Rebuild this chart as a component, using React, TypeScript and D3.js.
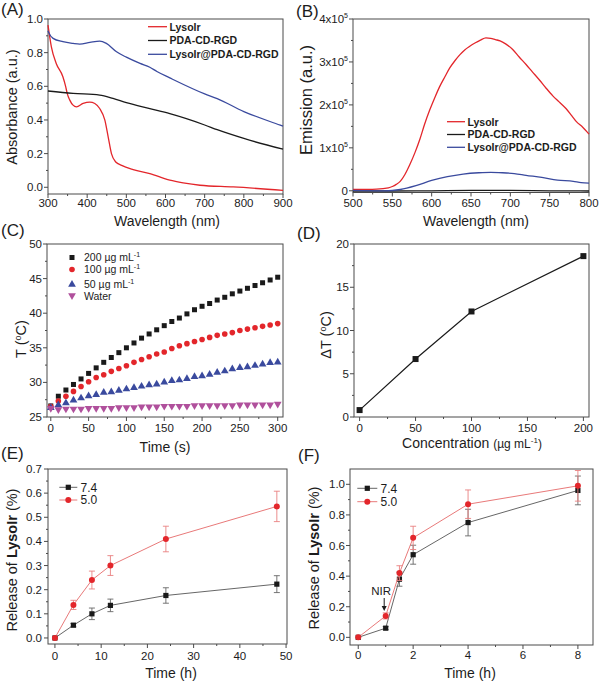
import React from "react";
import * as d3 from "d3";

type Pt = [number, number];

const FONT = "'Liberation Sans', Arial, Helvetica, sans-serif";
const INK = "#1c1c1c";
const FRAME = "#4a4a4a";
const RED = "#e3262b";
const BLACK = "#1a1a1a";
const BLUE = "#3a4a9e";
const MAGENTA = "#b0509c";

// ---------- Panel A: absorbance (wavelength nm, a.u.) ----------
const absLysoIr: Pt[] = [
  [300, 0.964], [308.6, 0.835], [321, 0.736], [338, 0.657], [345, 0.6], [349, 0.558],
  [355.6, 0.518], [364, 0.488], [372.6, 0.478], [389.7, 0.498], [406.7, 0.506],
  [419.5, 0.498], [432, 0.468], [445, 0.4], [453.6, 0.3], [462, 0.2], [473, 0.15],
  [488, 0.13], [517.5, 0.105], [560, 0.081], [611, 0.042], [645, 0.026], [688, 0.012],
  [773, 0.002], [900, -0.018],
];
const absPDA: Pt[] = [
  [300, 0.572], [364, 0.558], [432, 0.548], [466, 0.528], [500, 0.503], [560, 0.467],
  [611, 0.437], [700, 0.37], [732, 0.342], [800, 0.29], [900, 0.226],
];
const absLysoIrPDA: Pt[] = [
  [300, 0.93], [302, 0.918], [313, 0.885], [338, 0.865], [364, 0.855], [381, 0.851],
  [407, 0.861], [432, 0.869], [449, 0.855], [475, 0.805], [500, 0.773], [535, 0.736],
  [560, 0.713], [578, 0.688], [611, 0.65], [700, 0.555], [732, 0.527], [800, 0.45],
  [893, 0.369], [900, 0.363],
];
const absLegend = ["LysoIr", "PDA-CD-RGD", "LysoIr@PDA-CD-RGD"];

// ---------- Panel B: emission (wavelength nm, counts) ----------
const emLysoIr: Pt[] = [
  [500, 3000], [530, 4000], [545, 7000], [550, 10000], [555, 15000], [560, 22000],
  [566, 38000], [572, 60000], [579, 90000], [585, 120000], [591, 155000], [597.5, 188000],
  [604, 217000], [610, 242000], [617, 266000], [623, 286000], [630, 304000], [636, 317000],
  [642, 328000], [648, 336000], [655, 344000], [662, 351000], [669, 356000], [675, 355000],
  [681, 352000], [687, 349000], [694, 342000], [703, 329000], [711, 312000], [720, 294000],
  [728, 277000], [737, 258000], [745, 240000], [754, 221000], [762, 207000], [771, 191000],
  [778, 175000], [784, 161000], [792, 148000], [800, 132000],
];
const emPDA: Pt[] = [
  [500, -500], [550, -500], [600, 0], [650, 800], [700, 800], [750, 0], [800, -500],
];
const emLysoIrPDA: Pt[] = [
  [500, 1000], [540, 0], [560, 3000], [580, 12000], [600, 24000], [620, 33000],
  [640, 39000], [660, 42000], [675, 43000], [690, 42000], [705, 40000], [720, 36000],
  [740, 31000], [760, 25000], [780, 22000], [790, 19000], [800, 18000],
];

// ---------- Panel C: heating curves ----------
const timeC = [0, 10, 20, 30, 40, 50, 60, 70, 80, 90, 100, 110, 120, 130, 140, 150, 160, 170, 180, 190, 200, 210, 220, 230, 240, 250, 260, 270, 280, 290, 300];
const temp200 = [26.6, 28.0, 28.9, 29.7, 30.5, 31.3, 32.1, 32.9, 33.6, 34.3, 35.0, 35.7, 36.4, 37.0, 37.6, 38.2, 38.8, 39.3, 39.9, 40.5, 41.0, 41.4, 41.9, 42.3, 42.8, 43.2, 43.6, 44.0, 44.4, 44.8, 45.2];
const temp100 = [26.5, 27.3, 28.0, 28.7, 29.4, 30.1, 30.7, 31.1, 31.6, 32.0, 32.4, 32.9, 33.3, 33.7, 34.1, 34.4, 34.9, 35.3, 35.6, 35.9, 36.2, 36.5, 36.8, 37.0, 37.2, 37.5, 37.7, 37.9, 38.1, 38.3, 38.5];
const temp50 = [26.4, 26.8, 27.1, 27.5, 27.8, 28.1, 28.3, 28.6, 28.7, 28.9, 29.1, 29.3, 29.5, 29.7, 29.8, 30.1, 30.3, 30.4, 30.6, 30.9, 31.0, 31.2, 31.5, 31.7, 32.0, 32.2, 32.3, 32.5, 32.7, 32.9, 33.0];
const tempWater = [26.2, 26.0, 26.1, 26.1, 26.1, 26.2, 26.2, 26.2, 26.2, 26.3, 26.3, 26.3, 26.4, 26.4, 26.4, 26.5, 26.5, 26.5, 26.5, 26.6, 26.6, 26.6, 26.6, 26.6, 26.6, 26.7, 26.7, 26.7, 26.7, 26.7, 26.8];
const heatLegend = ["200", "100", "50", "Water"];

// ---------- Panel D: delta T vs concentration ----------
const concD = [0, 50, 100, 200];
const deltaT = [0.8, 6.7, 12.2, 18.6];

// ---------- Panel E: release over 48 h ----------
const timeE = [0, 4, 8, 12, 24, 48];
const rel74E = [0, 0.053, 0.1, 0.135, 0.176, 0.223];
const err74E = [0, 0.007, 0.024, 0.026, 0.032, 0.035];
const rel50E = [0, 0.137, 0.24, 0.3, 0.41, 0.545];
const err50E = [0, 0.019, 0.037, 0.041, 0.053, 0.063];

// ---------- Panel F: release with NIR ----------
const timeF = [0, 1, 1.5, 2, 4, 8];
const rel74F = [0, 0.06, 0.38, 0.54, 0.75, 0.96];
const err74F = [0, 0.01, 0.046, 0.062, 0.087, 0.094];
const rel50F = [0, 0.14, 0.42, 0.65, 0.87, 0.99];
const err50F = [0, 0.02, 0.048, 0.076, 0.093, 0.1];
const phLegend = ["7.4", "5.0"];

// ---------- ticks ----------
const ticksAx = [300, 400, 500, 600, 700, 800, 900];
const minorAx = [350, 450, 550, 650, 750, 850];
const ticksAy = [0, 0.2, 0.4, 0.6, 0.8, 1.0];
const minorAy = [0.1, 0.3, 0.5, 0.7, 0.9];
const ticksBx = [500, 550, 600, 650, 700, 750, 800];
const minorBx = [525, 575, 625, 675, 725, 775];
const ticksBy = [0, 100000, 200000, 300000, 400000];
const minorBy = [50000, 150000, 250000, 350000];
const ticksCx = [0, 50, 100, 150, 200, 250, 300];
const minorCx = [25, 75, 125, 175, 225, 275];
const ticksCy = [25, 30, 35, 40, 45, 50];
const minorCy = [27.5, 32.5, 37.5, 42.5, 47.5];
const ticksDx = [0, 50, 100, 150, 200];
const minorDx = [25, 75, 125, 175];
const ticksDy = [0, 5, 10, 15, 20];
const minorDy = [2.5, 7.5, 12.5, 17.5];
const ticksEx = [0, 10, 20, 30, 40, 50];
const minorEx = [5, 15, 25, 35, 45];
const ticksEy = [0, 0.1, 0.2, 0.3, 0.4, 0.5, 0.6, 0.7];
const minorEy = [0.05, 0.15, 0.25, 0.35, 0.45, 0.55, 0.65];
const ticksFx = [0, 2, 4, 6, 8];
const minorFx = [1, 3, 5, 7];
const ticksFy = [0, 0.2, 0.4, 0.6, 0.8, 1.0];
const minorFy = [0.1, 0.3, 0.5, 0.7, 0.9];

interface Box { l: number; r: number; t: number; b: number }

const boxA: Box = { l: 48, r: 283, t: 19, b: 194 };
const boxB: Box = { l: 353, r: 589, t: 19, b: 192.5 };
const boxC: Box = { l: 47, r: 283, t: 244, b: 417 };
const boxD: Box = { l: 354, r: 589, t: 244, b: 417 };
const boxE: Box = { l: 48, r: 287, t: 469, b: 644 };
const boxF: Box = { l: 350, r: 593, t: 469, b: 645 };

type Sc = d3.ScaleLinear<number, number>;

function Frame(props: {
  box: Box; x: Sc; y: Sc; xMajor: number[]; xMinor: number[]; yMajor: number[]; yMinor: number[];
  xFmt: (v: number) => React.ReactNode; yFmt: (v: number) => React.ReactNode;
  xLabelY: number; yGap: number;
}) {
  const { box, x, y, xMajor, xMinor, yMajor, yMinor, xFmt, yFmt, xLabelY, yGap } = props;
  return (
    <g>
      <rect x={box.l} y={box.t} width={box.r - box.l} height={box.b - box.t} fill="none" stroke={FRAME} strokeWidth={1} />
      {xMajor.map((v) => (
        <line key={"xM" + v} x1={x(v)} x2={x(v)} y1={box.b} y2={box.b + 4} stroke={FRAME} />
      ))}
      {xMinor.map((v) => (
        <line key={"xm" + v} x1={x(v)} x2={x(v)} y1={box.b} y2={box.b + 2} stroke={FRAME} />
      ))}
      {yMajor.map((v) => (
        <line key={"yM" + v} x1={box.l - 4} x2={box.l} y1={y(v)} y2={y(v)} stroke={FRAME} />
      ))}
      {yMinor.map((v) => (
        <line key={"ym" + v} x1={box.l - 2} x2={box.l} y1={y(v)} y2={y(v)} stroke={FRAME} />
      ))}
      {xMajor.map((v) => (
        <text key={"xl" + v} x={x(v)} y={xLabelY} textAnchor="middle" fontSize={11.5} fill={INK}>
          {xFmt(v)}
        </text>
      ))}
      {yMajor.map((v) => (
        <text key={"yl" + v} x={box.l - yGap} y={y(v) + 4} textAnchor="end" fontSize={11.5} fill={INK}>
          {yFmt(v)}
        </text>
      ))}
    </g>
  );
}

const fmt1 = d3.format(".1f");
const fmt0 = (v: number) => String(v);

function YTitle({ x, y, children, size = 14.5 }: { x: number; y: number; children: React.ReactNode; size?: number }) {
  return (
    <text transform={`translate(${x},${y}) rotate(-90)`} textAnchor="middle" fontSize={size} fill={INK}>
      {children}
    </text>
  );
}

function ErrSeries({ xs, ys, es, x, y, color, lineColor, errColor, shape }: {
  xs: number[]; ys: number[]; es: number[]; x: Sc; y: Sc; color: string; lineColor: string; errColor: string; shape: "sq" | "ci";
}) {
  const pts: Pt[] = xs.map((t, i) => [t, ys[i]]);
  const line = d3.line<Pt>().x((d) => x(d[0])).y((d) => y(d[1]));
  return (
    <g>
      <path d={line(pts) || ""} fill="none" stroke={lineColor} strokeWidth={0.9} />
      {xs.map((t, i) =>
        es[i] > 0 ? (
          <g key={"e" + i} stroke={errColor} strokeWidth={0.9}>
            <line x1={x(t)} x2={x(t)} y1={y(ys[i] - es[i])} y2={y(ys[i] + es[i])} />
            <line x1={x(t) - 3} x2={x(t) + 3} y1={y(ys[i] - es[i])} y2={y(ys[i] - es[i])} />
            <line x1={x(t) - 3} x2={x(t) + 3} y1={y(ys[i] + es[i])} y2={y(ys[i] + es[i])} />
          </g>
        ) : null
      )}
      {xs.map((t, i) =>
        shape === "sq" ? (
          <rect key={"m" + i} x={x(t) - 2.6} y={y(ys[i]) - 2.6} width={5.2} height={5.2} fill={color} />
        ) : (
          <circle key={"m" + i} cx={x(t)} cy={y(ys[i])} r={3} fill={color} />
        )
      )}
    </g>
  );
}

export default function App() {
  // ---- scales ----
  const xA = d3.scaleLinear().domain([300, 900]).range([boxA.l, boxA.r]);
  const yA = d3.scaleLinear().domain([-0.04, 1.0]).range([boxA.b, boxA.t]);
  const xB = d3.scaleLinear().domain([500, 800]).range([boxB.l, boxB.r]);
  const yB = d3.scaleLinear().domain([-4000, 400000]).range([boxB.b, boxB.t]);
  const xC = d3.scaleLinear().domain([-5, 307]).range([boxC.l, boxC.r]);
  const yC = d3.scaleLinear().domain([25, 50]).range([boxC.b, boxC.t]);
  const xD = d3.scaleLinear().domain([-5, 205]).range([boxD.l, boxD.r]);
  const yD = d3.scaleLinear().domain([0, 20]).range([boxD.b, boxD.t]);
  const xE = d3.scaleLinear().domain([-1.5, 50.2]).range([boxE.l, boxE.r]);
  const yE = d3.scaleLinear().domain([-0.025, 0.7]).range([boxE.b, boxE.t]);
  const xF = d3.scaleLinear().domain([-0.3, 8.55]).range([boxF.l, boxF.r]);
  const yF = d3.scaleLinear().domain([-0.05, 1.1]).range([boxF.b, boxF.t]);

  const lineA = d3.line<Pt>().x((d) => xA(d[0])).y((d) => yA(d[1])).curve(d3.curveMonotoneX);
  const lineB = d3.line<Pt>().x((d) => xB(d[0])).y((d) => yB(d[1])).curve(d3.curveMonotoneX);
  const lineD = d3.line<number>().x((_, i) => xD(concD[i])).y((d) => yD(d));

  const absSeries = [
    { d: absLysoIr, c: RED },
    { d: absPDA, c: BLACK },
    { d: absLysoIrPDA, c: BLUE },
  ];
  const emSeries = [
    { d: emLysoIr, c: RED },
    { d: emPDA, c: BLACK },
    { d: emLysoIrPDA, c: BLUE },
  ];
  const heatSeries = [temp200, temp100, temp50, tempWater];
  const heatColors = [BLACK, RED, BLUE, MAGENTA];
  const triUp = d3.symbol().type(d3.symbolTriangle).size(26)() || "";

  const marker = (k: number, cx: number, cy: number, key: string) => {
    if (k === 0) return <rect key={key} x={cx - 2.5} y={cy - 2.5} width={5} height={5} fill={heatColors[0]} />;
    if (k === 1) return <circle key={key} cx={cx} cy={cy} r={2.8} fill={heatColors[1]} />;
    if (k === 2) return <path key={key} d={triUp} transform={`translate(${cx},${cy + 0.5})`} fill={heatColors[2]} />;
    return <path key={key} d={triUp} transform={`translate(${cx},${cy - 0.5}) rotate(180)`} fill={heatColors[3]} />;
  };

  const supB = (v: number) =>
    v === 0 ? "0" : (
      <>
        {`${v / 100000}x10`}
        <tspan dy={-5} fontSize={7}>5</tspan>
      </>
    );

  const nirX = xF(timeF[1]) - 1.5;
  const nirTip = yF(rel50F[1]) - 5;

  return (
    <svg width={600} height={685} viewBox="0 0 600 685" style={{ position: "absolute", left: 0, top: 0, background: "#fff" }} fontFamily={FONT}>
      <rect x={0} y={0} width={600} height={685} fill="#fff" />

      {/* ===== Panel A ===== */}
      <text x={1} y={15} fontSize={17} fill={INK}>(A)</text>
      <Frame box={boxA} x={xA} y={yA} xMajor={ticksAx} xMinor={minorAx} yMajor={ticksAy} yMinor={minorAy}
        xFmt={fmt0} yFmt={fmt1} xLabelY={207} yGap={5} />
      {absSeries.map((s, i) => (
        <path key={"a" + i} d={lineA(s.d) || ""} fill="none" stroke={s.c} strokeWidth={1.3} />
      ))}
      {absLegend.map((name, i) => (
        <g key={"al" + i}>
          <line x1={148} x2={167} y1={26.7 + i * 13.8} y2={26.7 + i * 13.8} stroke={absSeries[i].c} strokeWidth={1.3} />
          <text x={169.5} y={30.5 + i * 13.8} fontSize={10.5} fontWeight="bold" fill={INK}>{name}</text>
        </g>
      ))}
      <text x={167} y={226} textAnchor="middle" fontSize={14} fill={INK}>Wavelength (nm)</text>
      <YTitle x={17} y={107}>Absorbance (a.u.)</YTitle>

      {/* ===== Panel B ===== */}
      <text x={296} y={17} fontSize={17} fill={INK}>(B)</text>
      <Frame box={boxB} x={xB} y={yB} xMajor={ticksBx} xMinor={minorBx} yMajor={ticksBy} yMinor={minorBy}
        xFmt={fmt0} yFmt={supB} xLabelY={207} yGap={5} />
      {emSeries.map((s, i) => (
        <path key={"b" + i} d={lineB(s.d) || ""} fill="none" stroke={s.c} strokeWidth={1.3} />
      ))}
      {absLegend.map((name, i) => (
        <g key={"bl" + i}>
          <line x1={447} x2={465} y1={121.7 + i * 12.8} y2={121.7 + i * 12.8} stroke={emSeries[i].c} strokeWidth={1.3} />
          <text x={467.5} y={125.5 + i * 12.8} fontSize={10.5} fontWeight="bold" fill={INK}>{name}</text>
        </g>
      ))}
      <text x={476} y={226} textAnchor="middle" fontSize={14} fill={INK}>Wavelength (nm)</text>
      <YTitle x={312} y={100} size={16.5}>Emission (a.u.)</YTitle>

      {/* ===== Panel C ===== */}
      <text x={1} y={236} fontSize={17} fill={INK}>(C)</text>
      <Frame box={boxC} x={xC} y={yC} xMajor={ticksCx} xMinor={minorCx} yMajor={ticksCy} yMinor={minorCy}
        xFmt={fmt0} yFmt={fmt0} xLabelY={432} yGap={5} />
      {heatSeries.map((arr, k) => (
        <g key={"c" + k}>{arr.map((v, i) => marker(k, xC(timeC[i]), yC(v), `c${k}-${i}`))}</g>
      ))}
      {heatLegend.map((name, k) => {
        const ly = [257.5, 269.5, 284, 296][k];
        return (
          <g key={"cl" + k}>
            {marker(k, 72, ly, "clm" + k)}
            <text x={84} y={ly + 3.8} fontSize={10.5} fill={INK}>
              {k < 3 ? (
                <>
                  {`${name} µg mL`}
                  <tspan dy={-4} fontSize={7}>-1</tspan>
                </>
              ) : name}
            </text>
          </g>
        );
      })}
      <text x={165} y={452} textAnchor="middle" fontSize={14} fill={INK}>Time (s)</text>
      <YTitle x={26} y={339}>
        T (<tspan dy={-5} fontSize={9}>o</tspan><tspan dy={5}>C)</tspan>
      </YTitle>

      {/* ===== Panel D ===== */}
      <text x={297} y={239} fontSize={17} fill={INK}>(D)</text>
      <Frame box={boxD} x={xD} y={yD} xMajor={ticksDx} xMinor={minorDx} yMajor={ticksDy} yMinor={minorDy}
        xFmt={fmt0} yFmt={fmt0} xLabelY={432} yGap={5} />
      <path d={lineD(deltaT) || ""} fill="none" stroke={BLACK} strokeWidth={1.2} />
      {deltaT.map((v, i) => (
        <rect key={"d" + i} x={xD(concD[i]) - 3} y={yD(v) - 3} width={6} height={6} fill={BLACK} />
      ))}
      <text x={472} y={448} textAnchor="middle" fontSize={14} fill={INK}>
        Concentration <tspan fontSize={12}>(µg mL</tspan>
        <tspan dy={-5} fontSize={8}>-1</tspan>
        <tspan dy={5} fontSize={12}>)</tspan>
      </text>
      <YTitle x={331} y={335}>
        ΔT (<tspan dy={-5} fontSize={9}>o</tspan><tspan dy={5}>C)</tspan>
      </YTitle>

      {/* ===== Panel E ===== */}
      <text x={1} y={459} fontSize={17} fill={INK}>(E)</text>
      <Frame box={boxE} x={xE} y={yE} xMajor={ticksEx} xMinor={minorEx} yMajor={ticksEy} yMinor={minorEy}
        xFmt={fmt0} yFmt={fmt1} xLabelY={660} yGap={6} />
      <ErrSeries xs={timeE} ys={rel74E} es={err74E} x={xE} y={yE} color={BLACK} lineColor="#555" errColor="#666" shape="sq" />
      <ErrSeries xs={timeE} ys={rel50E} es={err50E} x={xE} y={yE} color={RED} lineColor="#e56a6a" errColor="#e98080" shape="ci" />
      {phLegend.map((name, i) => (
        <g key={"el" + i}>
          <line x1={59.3} x2={77.3} y1={487.3 + i * 12.7} y2={487.3 + i * 12.7} stroke={i === 0 ? "#555" : "#e56a6a"} strokeWidth={0.9} />
          {i === 0 ? (
            <rect x={68.3 - 2.6} y={487.3 - 2.6} width={5.2} height={5.2} fill={BLACK} />
          ) : (
            <circle cx={68.3} cy={500} r={3} fill={RED} />
          )}
          <text x={80.5} y={491.5 + i * 12.7} fontSize={12} fill={INK}>{name}</text>
        </g>
      ))}
      <text x={171} y={678} textAnchor="middle" fontSize={14} fill={INK}>Time (h)</text>
      <YTitle x={17} y={560}>
        Release of <tspan fontWeight="bold">LysoIr</tspan> (%)
      </YTitle>

      {/* ===== Panel F ===== */}
      <text x={298} y={461} fontSize={17} fill={INK}>(F)</text>
      <Frame box={boxF} x={xF} y={yF} xMajor={ticksFx} xMinor={minorFx} yMajor={ticksFy} yMinor={minorFy}
        xFmt={fmt0} yFmt={fmt1} xLabelY={659} yGap={5} />
      <ErrSeries xs={timeF} ys={rel74F} es={err74F} x={xF} y={yF} color={BLACK} lineColor="#555" errColor="#666" shape="sq" />
      <ErrSeries xs={timeF} ys={rel50F} es={err50F} x={xF} y={yF} color={RED} lineColor="#e56a6a" errColor="#e98080" shape="ci" />
      {phLegend.map((name, i) => (
        <g key={"fl" + i}>
          <line x1={357.3} x2={377.3} y1={488.3 + i * 13.4} y2={488.3 + i * 13.4} stroke={i === 0 ? "#555" : "#e56a6a"} strokeWidth={0.9} />
          {i === 0 ? (
            <rect x={367.3 - 2.6} y={488.3 - 2.6} width={5.2} height={5.2} fill={BLACK} />
          ) : (
            <circle cx={367.3} cy={501.7} r={3} fill={RED} />
          )}
          <text x={380.5} y={492.5 + i * 13.4} fontSize={12} fill={INK}>{name}</text>
        </g>
      ))}
      <text x={nirX - 3} y={595} textAnchor="middle" fontSize={11.5} fill={INK}>NIR</text>
      <line x1={nirX} x2={nirX} y1={598} y2={nirTip - 4} stroke={INK} strokeWidth={1} />
      <path d={`M${nirX - 2.5},${nirTip - 5}L${nirX + 2.5},${nirTip - 5}L${nirX},${nirTip}Z`} fill={INK} />
      <text x={470} y={678} textAnchor="middle" fontSize={14} fill={INK}>Time (h)</text>
      <YTitle x={319} y={558}>
        Release of <tspan fontWeight="bold">LysoIr</tspan> (%)
      </YTitle>
    </svg>
  );
}
